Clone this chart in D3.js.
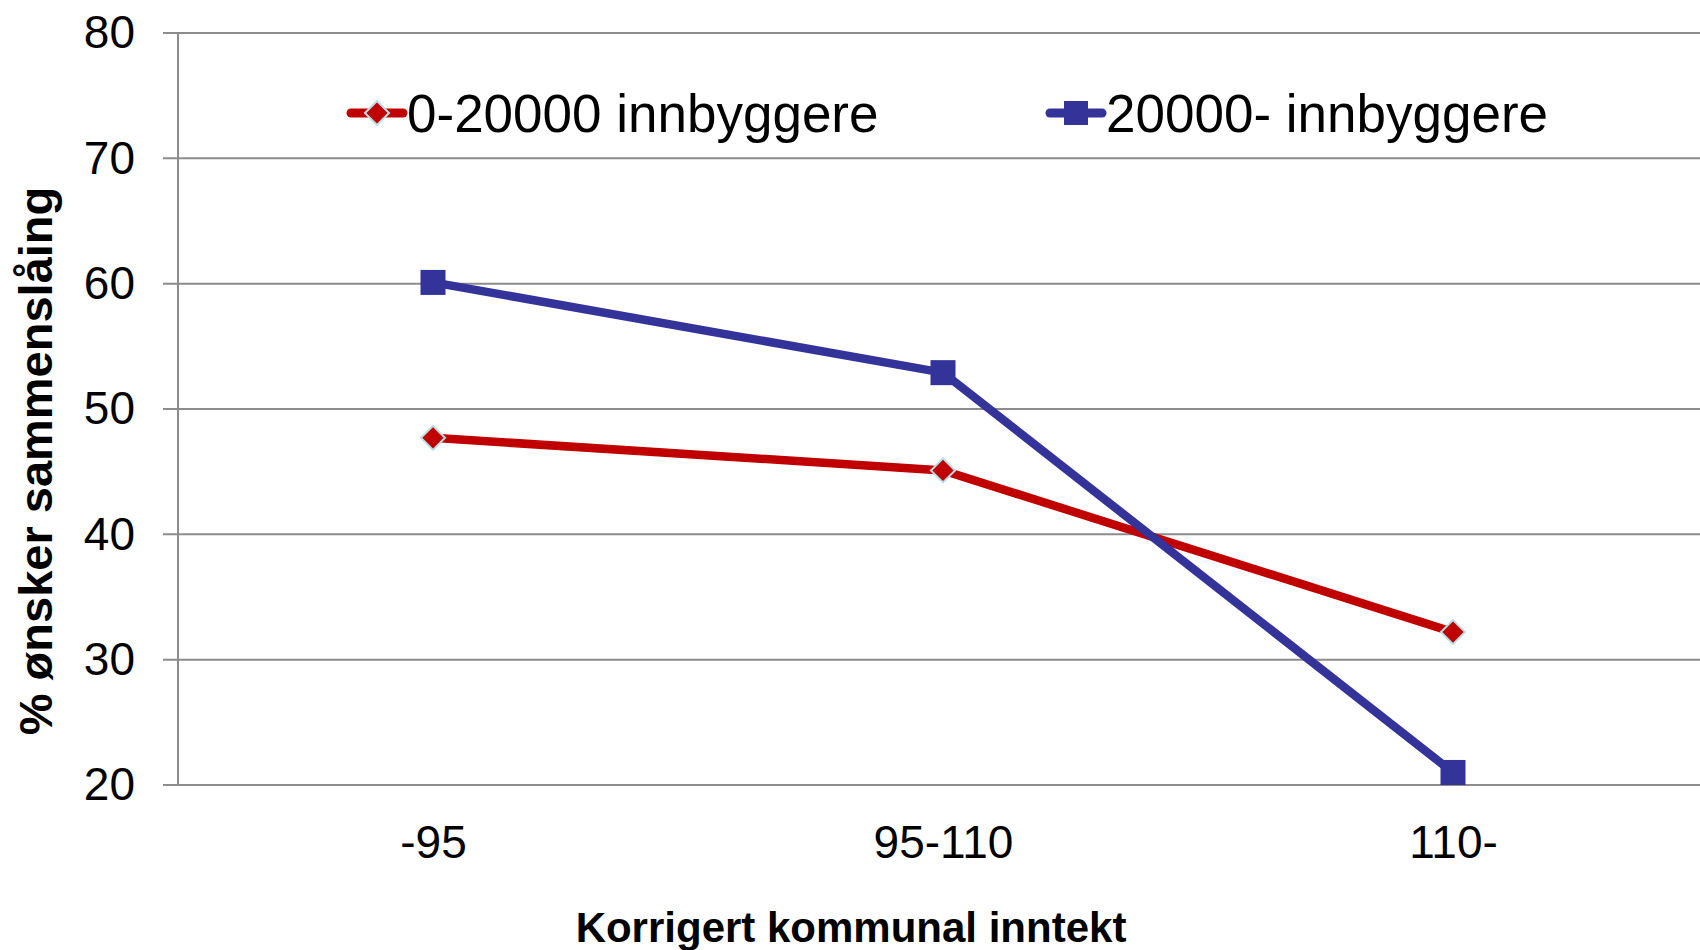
<!DOCTYPE html>
<html>
  <head>
    <title>D3</title>
    <script src="https://cdn.jsdelivr.net/npm/d3@7"></script>
    <style>
      body {
        margin: 0;
        background: white;
      }
      svg {
        display: block;
        font-family: "Liberation Sans", Arial, sans-serif;
      }
    </style>
  </head>
  <body>
    <script>
    var categories = ["-95", "95-110", "110-"];
    var seriesNames = ["0-20000 innbyggere", "20000- innbyggere"];
    var smallValues = [47.7, 45.1, 32.2];
    var largeValues = [60.1, 52.9, 21.0];
    var yTicks = [20, 30, 40, 50, 60, 70, 80];

    var width = 1700, height = 950;
    var plotLeft = 178, plotTop = 33, plotRight = 1708, plotBottom = 785;

    var svg = d3.select("body").append("svg")
      .attr("width", width)
      .attr("height", height);

    var x = d3.scalePoint().domain(categories).range([plotLeft, plotRight]).padding(0.5);
    var y = d3.scaleLinear().domain([20, 80]).range([plotBottom, plotTop]);

    // gridlines
    svg.append("g")
      .selectAll("line")
      .data(yTicks)
      .enter().append("line")
      .attr("x1", plotLeft - 15)
      .attr("x2", width)
      .attr("y1", function (d) { return y(d); })
      .attr("y2", function (d) { return y(d); })
      .attr("stroke", "#8c8c8c")
      .attr("stroke-width", 2);

    svg.append("line")
      .attr("x1", plotLeft).attr("x2", plotLeft)
      .attr("y1", plotTop).attr("y2", plotBottom)
      .attr("stroke", "#8c8c8c")
      .attr("stroke-width", 2);

    // y labels
    var yAxis = svg.append("g")
      .attr("transform", "translate(" + (plotLeft - 15) + ",0)")
      .call(d3.axisLeft(y).tickValues(yTicks).tickSize(0).tickPadding(28));
    yAxis.select(".domain").remove();
    yAxis.selectAll("text")
      .attr("font-size", 46)
      .attr("font-family", "Liberation Sans, Arial, sans-serif")
      .attr("fill", "#000");

    // x labels
    var xAxis = svg.append("g")
      .attr("transform", "translate(0," + plotBottom + ")")
      .call(d3.axisBottom(x).tickSize(0).tickPadding(40));
    xAxis.select(".domain").remove();
    xAxis.selectAll("text")
      .attr("font-size", 46)
      .attr("font-family", "Liberation Sans, Arial, sans-serif")
      .attr("fill", "#000");

    // axis titles
    svg.append("text")
      .attr("x", 851).attr("y", 942)
      .attr("text-anchor", "middle")
      .attr("font-size", 42)
      .attr("font-weight", "bold")
      .text("Korrigert kommunal inntekt");

    svg.append("text")
      .attr("transform", "translate(52,461) rotate(-90)")
      .attr("text-anchor", "middle")
      .attr("font-size", 47)
      .attr("font-weight", "bold")
      .text("% ønsker sammenslåing");

    var line = d3.line()
      .x(function (d, i) { return x(categories[i]); })
      .y(function (d) { return y(d); });

    var red = "#c00000", blue = "#333399";

    svg.append("path").datum(smallValues)
      .attr("d", line).attr("fill", "none")
      .attr("stroke", red).attr("stroke-width", 8.5);
    svg.append("path").datum(largeValues)
      .attr("d", line).attr("fill", "none")
      .attr("stroke", blue).attr("stroke-width", 8.5);

    var diamond = d3.symbol().type(d3.symbolSquare).size(289);

    svg.append("g").selectAll("path")
      .data(smallValues)
      .enter().append("path")
      .attr("d", diamond)
      .attr("transform", function (d, i) { return "translate(" + x(categories[i]) + "," + y(d) + ") rotate(45)"; })
      .attr("fill", red)
      .attr("stroke", "#b7e0e6")
      .attr("stroke-width", 2);

    svg.append("g").selectAll("rect")
      .data(largeValues)
      .enter().append("rect")
      .attr("x", function (d, i) { return x(categories[i]) - 12.5; })
      .attr("y", function (d) { return y(d) - 12.5; })
      .attr("width", 25).attr("height", 25)
      .attr("fill", blue);

    // legend
    var legend = [
      {name: seriesNames[0], x: 351, color: red, mark: "diamond"},
      {name: seriesNames[1], x: 1050, color: blue, mark: "square"}
    ];
    var ly = 113;
    legend.forEach(function (l) {
      svg.append("line")
        .attr("x1", l.x).attr("x2", l.x + 52)
        .attr("y1", ly).attr("y2", ly)
        .attr("stroke", l.color).attr("stroke-width", 9)
        .attr("stroke-linecap", "round");
      if (l.mark == "diamond") {
        svg.append("path")
          .attr("d", diamond)
          .attr("transform", "translate(" + (l.x + 26) + "," + ly + ") rotate(45)")
          .attr("fill", l.color)
          .attr("stroke", "#b7e0e6")
          .attr("stroke-width", 2);
      } else {
        svg.append("rect")
          .attr("x", l.x + 26 - 12).attr("y", ly - 12)
          .attr("width", 24).attr("height", 24)
          .attr("fill", l.color);
      }
      svg.append("text")
        .attr("x", l.x + 56).attr("y", ly + 19)
        .attr("font-size", 53)
        .text(l.name);
    });
    </script>
  </body>
</html>
